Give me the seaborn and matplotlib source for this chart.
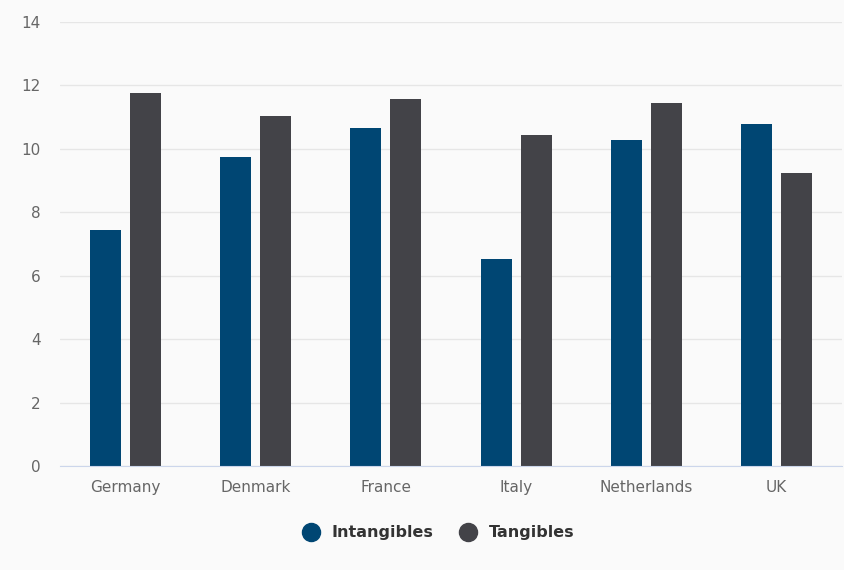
import pandas as pd
import seaborn as sns
import matplotlib.pyplot as plt
from matplotlib.lines import Line2D

countries = ['Germany', 'Denmark', 'France', 'Italy', 'Netherlands', 'UK']
intangibles = [7.45, 9.73, 10.66, 6.53, 10.27, 10.77]
tangibles = [11.75, 11.03, 11.56, 10.45, 11.44, 9.24]
series = ['Intangibles', 'Tangibles']
colors = ['#004673', '#434348']

df = pd.DataFrame({'country': countries * 2,
                   'value': intangibles + tangibles,
                   'series': [series[0]] * 6 + [series[1]] * 6})

sns.set_style('white')
plt.rcParams['font.family'] = ['DejaVu Sans']

fig = plt.figure(figsize=(8.44, 5.70), dpi=100)
fig.patch.set_facecolor('#fafafa')
ax = fig.add_axes([0.071, 0.1825, 0.9265, 0.779])
ax.set_facecolor('#fafafa')

sns.barplot(data=df, x='country', y='value', hue='series', palette=colors,
            width=0.6135, gap=0.225, ax=ax, legend=False, saturation=1,
            linewidth=0)

ax.set_ylim(0, 14)
ax.set_yticks(range(0, 15, 2))
ax.set_xlim(-0.5, 5.5)
ax.yaxis.grid(True, color='#e6e6e6', linewidth=1)
ax.set_axisbelow(True)
for s in ['top', 'right', 'left']:
    ax.spines[s].set_visible(False)
ax.spines['bottom'].set_color('#ccd6eb')
ax.set_xlabel('')
ax.set_ylabel('')
ax.tick_params(axis='both', length=0, colors='#666666', labelsize=11)
ax.tick_params(axis='x', pad=10)
ax.tick_params(axis='y', pad=14)

handles = [Line2D([], [], marker='o', linestyle='', markersize=13, color=c) for c in colors]
leg = fig.legend(handles, series, loc='center', bbox_to_anchor=(0.515, 0.065), ncol=2,
                 frameon=False, handletextpad=0.3, columnspacing=1.2,
                 prop={'weight': 'bold', 'size': 11.5})
for t in leg.get_texts():
    t.set_color('#333333')

fig.savefig('out.png', dpi=100, facecolor=fig.get_facecolor())
